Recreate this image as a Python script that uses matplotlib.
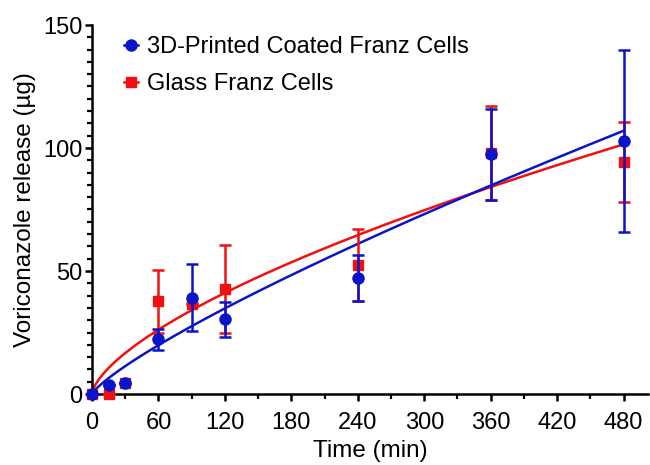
import numpy as np
import matplotlib
matplotlib.use("Agg")
from matplotlib import pyplot as plt
from matplotlib.lines import Line2D

plt.rcParams['font.family'] = ['Liberation Sans', 'DejaVu Sans']

# Zeitpunkte (min)
time = [0, 15, 30, 60, 90, 120, 240, 360, 480]

# 3D-gedruckte beschichtete Franz-Zellen
printed_mean = [0, 3.7, 4.3, 22.3, 39.0, 30.5, 47.2, 97.5, 102.8]
printed_lo = [0, 0, 0, 4.3, 13.5, 7.2, 9.4, 18.6, 36.9]
printed_hi = [0, 0, 0, 4.1, 14.0, 6.9, 9.3, 18.3, 37.2]

# Glas-Franz-Zellen
glass_mean = [0, 0, 4.3, 37.8, 36.4, 42.6, 52.4, 98.0, 94.3]
glass_lo = [0, 0, 0, 12.8, 0, 17.8, 14.4, 19.1, 16.3]
glass_hi = [0, 0, 0, 12.5, 0, 17.9, 14.7, 19.0, 16.2]

# Anpassung y = k * t^n
printed_fit = (0.7205, 0.81)
glass_fit = (1.8125, 0.652)

blue = '#0a14c8'
red = '#f01010'

fig = plt.figure(figsize=(6.5, 4.65), dpi=100)
ax = fig.add_axes([92 / 650, 71 / 465, 556 / 650, 369 / 465])

t = np.linspace(0, 480, 400)
ax.plot(t, glass_fit[0] * t ** glass_fit[1], color=red, lw=1.8, zorder=2)
ax.plot(t, printed_fit[0] * t ** printed_fit[1], color=blue, lw=1.8, zorder=3)

ax.errorbar(time, glass_mean, yerr=[glass_lo, glass_hi], fmt='s', color=red,
            ms=7.5, elinewidth=1.8, capsize=4, capthick=1.8, zorder=4, clip_on=False)
ax.errorbar(time, printed_mean, yerr=[printed_lo, printed_hi], fmt='o', color=blue,
            ms=8, elinewidth=1.8, capsize=4, capthick=1.8, zorder=5, clip_on=False)

ax.set_xlim(0, 502)
ax.set_ylim(0, 150)
ax.set_xticks(np.arange(0, 481, 60))
ax.set_xticks(np.arange(30, 481, 60), minor=True)
ax.set_yticks([0, 50, 100, 150])
ax.set_yticks(np.arange(0, 151, 5), minor=True)

for s in ['top', 'right']:
    ax.spines[s].set_visible(False)
for s in ['left', 'bottom']:
    ax.spines[s].set_linewidth(1.8)

ax.tick_params(which='major', length=5, width=1.8, labelsize=17, direction='out')
ax.tick_params(which='minor', length=3.5, width=1.6, direction='out')
ax.tick_params(axis='y', pad=2)
ax.tick_params(axis='x', pad=8)

ax.set_xlabel('Time (min)', fontsize=17.5, labelpad=4)
ax.set_ylabel('Voriconazole release (\u00b5g)', fontsize=17.5, labelpad=5)

handles = [
    Line2D([], [], color=blue, marker='o', ms=8, lw=1.8),
    Line2D([], [], color=red, marker='s', ms=7.5, lw=1.8),
]
ax.legend(handles, ['3D-Printed Coated Franz Cells', 'Glass Franz Cells'],
          loc='upper left', bbox_to_anchor=(0.04, 0.995), borderaxespad=0,
          frameon=False, fontsize=17, handlelength=0.6, handletextpad=0.4,
          labelspacing=0.62)

fig.savefig('out.png', dpi=100)
